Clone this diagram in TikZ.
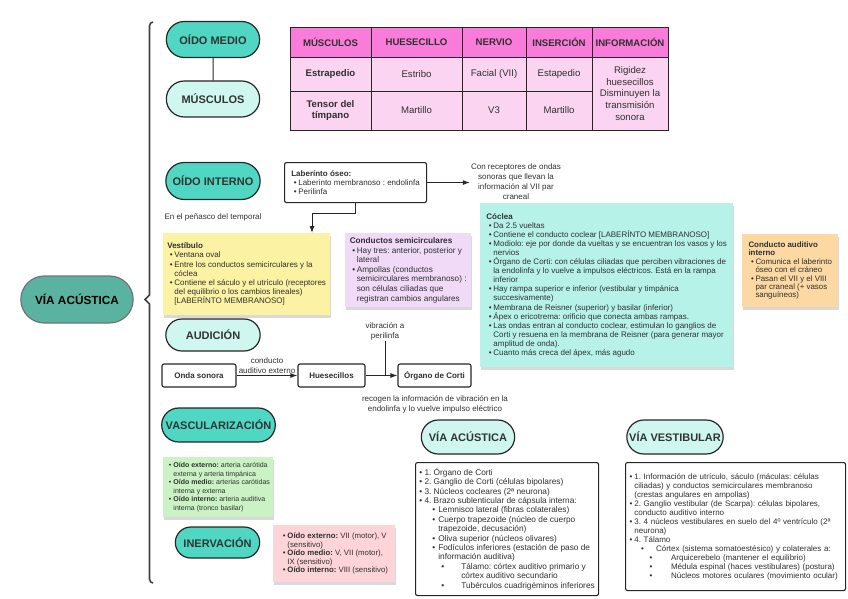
\documentclass[tikz,border=0pt]{standalone}
\usepackage{fontspec}
\setmainfont{Liberation Sans}
\usepackage{tikz}
\usetikzlibrary{arrows,arrows.meta}
\usetikzlibrary{calc}
\usetikzlibrary{shapes.misc,shadows}

\definecolor{turq}{HTML}{50D7C3}
\definecolor{turqlight}{HTML}{CFF7F0}
\definecolor{viagreen}{HTML}{5AB3A1}
\definecolor{pinkhead}{HTML}{F97CDB}
\definecolor{pinkcell}{HTML}{FBD4F2}
\definecolor{notey}{HTML}{FBF2A4}
\definecolor{notelila}{HTML}{F0DAF8}
\definecolor{noteaqua}{HTML}{B6F2E8}
\definecolor{noteorange}{HTML}{FCD9A2}
\definecolor{notegreen}{HTML}{CBF2C4}
\definecolor{notepink}{HTML}{FDD5D8}
\definecolor{ink}{HTML}{303030}

\newcommand{\itm}[2]{\hspace*{#1}\makebox[\dimexpr#2-#1\relax][l]{\textbullet}}
\newcommand{\ia}{\itm{2.5pt}{7pt}}
\newcommand{\ic}{\hspace*{7pt}}
\frenchspacing

\begin{document}
\begin{tikzpicture}[x=1pt,y=-1pt,>={Latex[length=7pt,width=5pt]},
  pill/.style={rounded rectangle, draw=black!85, line width=1.2pt, text=black!80, font=\bfseries\fontsize{11}{13}\selectfont, minimum width=100pt, minimum height=36pt},
  dark/.style={pill, fill=turq},
  light/.style={pill, fill=turqlight},
  cell/.style={draw=black!85, line width=0.9pt, fill=pinkcell, text=ink, align=center, inner sep=1pt, font=\fontsize{9.6}{11.8}\selectfont},
  note/.style={anchor=north west, align=left, text=ink, inner sep=0pt, font=\fontsize{8}{9.2}\selectfont, drop shadow={shadow xshift=0.5pt, shadow yshift=-2.5pt, opacity=0.3}},
  framed/.style={draw=black!85, line width=1.1pt, rounded corners=2pt, fill=white, text=ink},
  flow/.style={framed, font=\bfseries\fontsize{8}{9}\selectfont, minimum height=23pt},
  lbl/.style={align=center, text=ink, font=\fontsize{8}{10}\selectfont, inner sep=1pt},
  link/.style={draw=black!85, line width=1pt}]

\useasboundingbox (0,0) rectangle (848,599);

\draw[draw=black!75, line width=1.6pt] (153,22) to[out=180,in=90] (149.5,26) -- (149.5,295) -- (145,299.5) -- (149.5,304) -- (149.5,579) to[out=-90,in=180] (153,583);
\node[pill, fill=viagreen, draw=black!55, text=black, minimum width=119pt, minimum height=47pt, font=\bfseries\fontsize{11.8}{13}\selectfont] (via) at (77,299.5) {VÍA ACÚSTICA};

\node[dark] (om) at (213,39.5) {OÍDO MEDIO};
\node[light] (mus) at (213,99) {MÚSCULOS};
\draw[link] (om) -- (mus);

\foreach \t/\x/\cw [count=\i] in {MÚSCULOS/330.5/81, HUESECILLO/416.5/91, NERVIO/494/64, INSERCIÓN/559/66, INFORMACIÓN/630/76}
  \node[cell, fill=pinkhead, font=\bfseries\fontsize{9.6}{11}\selectfont, minimum width=\cw pt, minimum height=30pt] (h\i) at (\x,42) {\t};
\node[cell, font=\bfseries\fontsize{9.6}{11.8}\selectfont, minimum width=81pt, minimum height=34pt] (m1) at (330.5,74) {Estrapedio};
\node[cell, font=\bfseries\fontsize{9.6}{11.8}\selectfont, minimum width=81pt, minimum height=39pt] (m2) at (330.5,110.5) {Tensor del\\tímpano};
\foreach \t/\x/\cw [count=\i] in {Estribo/416.5/91, Facial (VII)/494/64, Estapedio/559/66}
  \node[cell, minimum width=\cw pt, minimum height=34pt] (a\i) at (\x,74) {\t};
\foreach \t/\x/\cw [count=\i] in {Martillo/416.5/91, V3/494/64, Martillo/559/66}
  \node[cell, minimum width=\cw pt, minimum height=39pt] (b\i) at (\x,110.5) {\t};
\node[cell, minimum width=76pt, minimum height=73pt] (info) at (630,93.5) {Rigidez\\huesecillos\\Disminuyen la\\transmisión\\sonora};

\node[dark, minimum width=101pt, minimum height=37pt] (oi) at (213,181) {OÍDO INTERNO};
\node[lbl] (pen) at (213,217) {En el peñasco del temporal};
\node[framed, anchor=north west, align=left, minimum width=142pt, minimum height=40pt, inner sep=0pt, font=\fontsize{8}{9}\selectfont] (lab) at (284,162) {\textbf{Laberínto óseo:}\\\ia Laberinto membranoso : endolinfa\\\ia Perilinfa};
\node[lbl] (rec) at (516,182) {Con receptores de ondas\\sonoras que llevan la\\información al VII par\\craneal};
\draw[link,->] (lab) -- (lab -| rec.west);

\node[note, fill=notey, minimum width=167pt, minimum height=82pt] (ves) at (163,233) {\textbf{Vestíbulo}\\
\ia Ventana oval\\
\ia Entre los conductos semicirculares y la\\
\ic cóclea\\
\ia Contiene el sáculo y el utrículo (receptores\\
\ic del equilibrio o los cambios lineales)\\
\ic [LABERÍNTO MEMBRANOSO]};
\draw[link,->] (lab.south) -- ++(0,10) -| ($(ves.north west)+(149,0)$);

\node[note, fill=notelila, minimum width=126pt, minimum height=74pt, font=\fontsize{8.2}{9.6}\selectfont] (semi) at (345,233) {\textbf{Conductos semicirculares}\\
\ia Hay tres: anterior, posterior y\\
\ic lateral\\
\ia Ampollas (conductos\\
\ic semicirculares membranoso) :\\
\ic son células ciliadas que\\
\ic registran cambios angulares};

\node[note, fill=noteaqua, minimum width=253pt, minimum height=164pt, font=\fontsize{8}{9.1}\selectfont] (coc) at (480,203) {\textbf{Cóclea}\\
\ia Da 2.5 vueltas\\
\ia Contiene el conducto coclear [LABERÍNTO MEMBRANOSO]\\
\ia Modiolo: eje por donde da vueltas y se encuentran los vasos y los\\
\ic nervios\\
\ia Órgano de Corti: con células ciliadas que perciben vibraciones de\\
\ic la endolinfa y lo vuelve a impulsos eléctricos. Está en la rampa\\
\ic inferior\\
\ia Hay rampa superior e inferior (vestibular y timpánica\\
\ic succesivamente)\\
\ia Membrana de Reisner (superior) y basilar (inferior)\\
\ia Ápex o ericotrema: orificio que conecta ambas rampas.\\
\ia Las ondas entran al conducto coclear, estimulan lo ganglios de\\
\ic Corti y resuena en la membrana de Reisner (para generar mayor\\
\ic amplitud de onda).\\
\ia Cuanto más creca del ápex, más agudo};

\node[note, fill=noteorange, minimum width=96pt, minimum height=73pt, font=\fontsize{7.9}{8.4}\selectfont] (cai) at (742,234) {\textbf{Conducto auditivo}\\
\textbf{interno}\\
\ia Comunica el laberinto\\
\ic óseo con el cráneo\\
\ia Pasan el VII y el VIII\\
\ic par craneal (+ vasos\\
\ic sanguíneos)};

\node[light, minimum width=101pt, minimum height=32pt] (aud) at (213,335) {AUDICIÓN};
\node[flow, minimum width=74pt] (onda) at (199,375.5) {Onda sonora};
\node[flow, minimum width=67pt] (hues) at (331.5,375.5) {Huesecillos};
\node[flow, minimum width=73pt] (corti) at (434.5,375.5) {Órgano de Corti};
\draw[link,->] (onda) -- node[lbl, above] (cae) {conducto\\auditivo externo} (hues);
\draw[link,->] (hues) -- (corti);
\node[lbl] (vib) at (385,331) {vibración a\\perilinfa};
\draw[link] (vib.south) -- (vib.south |- hues.east);
\node[lbl] (recog) at (435,404) {recogen la información de vibración en la\\endolinfa y lo vuelve impulso eléctrico};

\node[dark, minimum width=113pt, minimum height=34pt] (vasc) at (218.5,425) {VASCULARIZACIÓN};
\node[note, fill=notegreen, minimum width=110pt, minimum height=60pt, font=\fontsize{7}{8.5}\selectfont] (vnote) at (163,457) {\ia\textbf{Oído externo:} arteria carótida\\
\ic externa y arteria timpánica\\
\ia\textbf{Oído medio:} arterias carótidas\\
\ic interna y externa\\
\ia\textbf{Oído interno:} arteria auditiva\\
\ic interna (tronco basilar)};

\node[dark, minimum width=91pt, minimum height=31pt] (inerv) at (217.5,542.5) {INERVACIÓN};
\node[note, fill=notepink, minimum width=122pt, minimum height=57pt, font=\fontsize{7.8}{8.4}\selectfont] (inote) at (273,525) {\ia\textbf{Oído externo:} VII (motor), V\\
\ic (sensitivo)\\
\ia\textbf{Oído medio:} V, VII (motor),\\
\ic IX (sensitivo)\\
\ia\textbf{Oído interno:} VIII (sensitivo)};

\node[light, minimum width=100pt, minimum height=34pt] (vacu) at (468,437) {VÍA ACÚSTICA};
\node[framed, anchor=north west, align=left, minimum width=183pt, minimum height=133pt, inner sep=0pt, font=\fontsize{8.3}{9.4}\selectfont] (lacu) at (415,462) {\itm{0pt}{5.2pt}1. Órgano de Corti\\
\itm{0pt}{5.2pt}2. Ganglio de Corti (células bipolares)\\
\itm{0pt}{5.2pt}3. Núcleos cocleares (2ª neurona)\\
\itm{0pt}{5.2pt}4. Brazo sublenticular de cápsula interna:\\
\itm{13pt}{19pt}Lemnisco lateral (fibras colaterales)\\
\itm{13pt}{19pt}Cuerpo trapezoide (núcleo de cuerpo\\
\hspace*{19pt}trapezoide, decusación)\\
\itm{13pt}{19pt}Oliva superior (núcleos olivares)\\
\itm{13pt}{19pt}Fodículos inferiores (estación de paso de\\
\hspace*{19pt}información auditiva)\\
\itm{22pt}{42pt}Tálamo: córtex auditivo primario y\\
\hspace*{42pt}córtex auditivo secundario\\
\itm{22pt}{42pt}Tubérculos cuadrigéminos inferiores};

\node[light, minimum width=103pt, minimum height=34pt] (vves) at (675,437) {VÍA VESTIBULAR};
\node[framed, anchor=north west, align=left, text width=212pt, inner xsep=4pt, inner ysep=0pt, minimum height=128pt, font=\fontsize{8}{9}\selectfont] (lves) at (625,462) {\itm{0pt}{4.8pt}1. Información de utrículo, sáculo (máculas: células\\
\hspace*{4.8pt}ciliadas) y conductos semicirculares membranoso\\
\hspace*{4.8pt}(crestas angulares en ampollas)\\
\itm{0pt}{4.8pt}2. Ganglio vestibular (de Scarpa): células bipolares,\\
\hspace*{4.8pt}conducto auditivo interno\\
\itm{0pt}{4.8pt}3. 4 núcleos vestibulares en suelo del 4º ventrículo (2ª\\
\hspace*{4.8pt}neurona)\\
\itm{0pt}{4.8pt}4. Tálamo\\
\itm{11.5pt}{26.5pt}Córtex (sistema somatoestésico) y colaterales a:\\
\itm{20pt}{41.5pt}Arquicerebelo (mantener el equilibrio)\\
\itm{20pt}{41.5pt}Médula espinal (haces vestibulares) (postura)\\
\itm{20pt}{41.5pt}Núcleos motores oculares (movimiento ocular)};

\end{tikzpicture}
\end{document}
